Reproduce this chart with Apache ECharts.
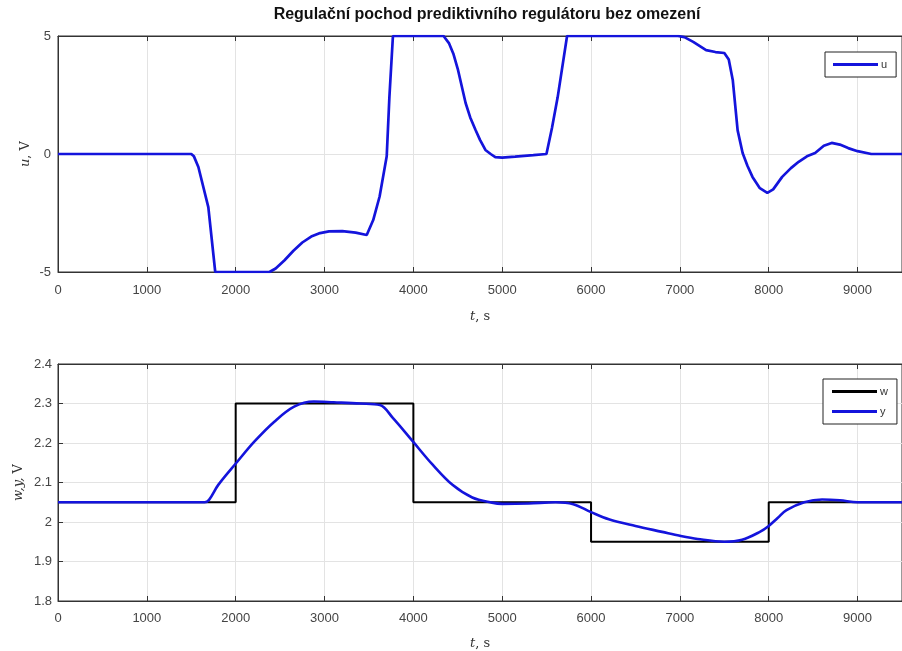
<!DOCTYPE html>
<html style="height: 100%">
<head>
    <meta charset="utf-8">
    <title>Regulační pochod</title>
    <script type="text/javascript" src="https://cdn.jsdelivr.net/npm/echarts@6/dist/echarts.min.js"></script>
</head>
<body style="height: 100%; margin: 0; background: #fff">
    <div id="container" style="width: 902px; height: 651px"></div>
    <script type="text/javascript">
        // akcni velicina u
        var uTime = [0, 1500, 1530, 1580, 1692, 1770, 2380, 2450, 2550, 2650, 2750, 2850, 2950, 3050, 3200, 3350, 3475, 3548, 3620, 3700, 3730, 3770,
            4340, 4400, 4450, 4500, 4588, 4640, 4700, 4750, 4811, 4870, 4922, 5000, 5145, 5350, 5498, 5560, 5624, 5730,
            6980, 7050, 7150, 7295, 7400, 7500, 7550, 7595, 7650, 7706, 7760, 7817, 7900, 7984, 8050, 8151, 8250, 8337, 8430, 8522, 8620, 8708, 8800, 8894, 9000, 9154, 9500];
        var uVal = [0, 0, -0.1, -0.55, -2.25, -5, -5, -4.85, -4.5, -4.1, -3.75, -3.5, -3.35, -3.28, -3.27, -3.33, -3.43, -2.8, -1.8, -0.1, 2.4, 5,
            5, 4.7, 4.25, 3.6, 2.16, 1.55, 1.02, 0.6, 0.17, 0.0, -0.13, -0.15, -0.11, -0.05, 0, 1.1, 2.4, 5,
            5, 4.95, 4.75, 4.4, 4.32, 4.28, 4.0, 3.14, 1.0, 0.04, -0.5, -0.97, -1.45, -1.65, -1.5, -0.97, -0.6, -0.33, -0.1, 0.04, 0.35, 0.47, 0.4, 0.25, 0.12, 0, 0];

        // zadana hodnota w (skoky)
        var wTime = [0, 2000, 2000, 4000, 4000, 6000, 6000, 8000, 8000, 9500];
        var wVal = [2.05, 2.05, 2.3, 2.3, 2.05, 2.05, 1.95, 1.95, 2.05, 2.05];

        // regulovana velicina y
        var yTime = [0, 1650, 1700, 1804, 2008, 2212, 2435, 2658, 2880, 3103, 3400, 3623, 3771, 3994, 4217, 4440, 4663, 4885,
            5000, 5300, 5600, 5800, 6000, 6200, 6500, 6800, 7000, 7200, 7500, 7700, 7900, 8000, 8100, 8200, 8400, 8600, 8800, 9000, 9500];
        var yVal = [2.05, 2.05, 2.056, 2.094, 2.15, 2.204, 2.254, 2.292, 2.305, 2.303, 2.300, 2.296, 2.263, 2.204, 2.145, 2.094, 2.062, 2.049,
            2.046, 2.047, 2.05, 2.045, 2.025, 2.007, 1.99, 1.975, 1.965, 1.957, 1.95, 1.955, 1.975, 1.99, 2.01, 2.03, 2.05, 2.057, 2.055, 2.05, 2.05];

        function pairs(t, v) {
            var out = [];
            for (var i = 0; i < t.length; i++) out.push([t[i], v[i]]);
            return out;
        }

        var font = 'Liberation Sans, Arial, sans-serif';
        var serif = 'DejaVu Serif, serif';
        var labelStyle = { color: '#444', fontSize: 13, fontFamily: font };
        var gridLine = { show: true, lineStyle: { color: '#e3e3e3', width: 1 } };
        var tickIn = { show: true, inside: true, length: 5, lineStyle: { color: '#333' } };
        var axLine = { show: true, onZero: false, lineStyle: { color: '#333', width: 1 } };
        var plain = function (v) { return String(Math.round(v * 100) / 100); };

        function nameStyle() {
            return {
                color: '#333', fontSize: 13, fontFamily: serif,
                rich: { i: { fontStyle: 'italic', fontSize: 13, fontFamily: serif, color: '#333' } }
            };
        }

        function xAxisFor(gi, margin, gap) {
            return [{
                type: 'value', gridIndex: gi, min: 0, max: 9500, interval: 1000,
                axisLine: axLine, axisTick: tickIn, splitLine: gridLine,
                axisLabel: Object.assign({ margin: margin, showMaxLabel: false, formatter: plain }, labelStyle),
                name: '{i|t}, s', nameLocation: 'middle', nameGap: gap,
                nameTextStyle: nameStyle()
            }, {
                type: 'value', gridIndex: gi, position: 'top', min: 0, max: 9500, interval: 1000,
                axisLine: axLine, axisTick: tickIn, splitLine: { show: false }, axisLabel: { show: false }
            }];
        }

        var legendBase = {
            orient: 'vertical', icon: 'rect', borderColor: '#222', borderWidth: 1, backgroundColor: '#fff', borderRadius: 0,
            itemWidth: 45, itemHeight: 3,
            textStyle: { fontSize: 11, color: '#333', fontFamily: font, padding: [0, 0, 0, -2] }
        };

        var myChart = echarts.init(document.getElementById('container'));
        var option = {
            animation: false,
            backgroundColor: '#fff',
            title: {
                text: 'Regulační pochod prediktivního regulátoru bez omezení',
                left: 482, top: 2, textAlign: 'center',
                textStyle: { fontSize: 16, fontWeight: 'bold', color: '#111', fontFamily: font }
            },
            grid: [
                { left: 58, top: 36, width: 853, height: 236, show: true, borderColor: '#333', borderWidth: 1 },
                { left: 58, top: 364, width: 853, height: 237, show: true, borderColor: '#333', borderWidth: 1 }
            ],
            legend: [Object.assign({}, legendBase, {
                data: ['u'], left: 825, top: 52, padding: [7, 9, 7, 8], itemGap: 2
            }), Object.assign({}, legendBase, {
                data: ['w', 'y'], left: 823, top: 379, padding: [7, 9, 7, 9], itemGap: 9
            })],
            xAxis: xAxisFor(0, 12, 38).concat(xAxisFor(1, 11, 36)),
            yAxis: [{
                type: 'value', gridIndex: 0, min: -5, max: 5, interval: 5,
                axisLine: axLine, axisTick: tickIn, splitLine: gridLine,
                axisLabel: Object.assign({ margin: 7, formatter: plain }, labelStyle),
                name: '{i|u}, V', nameLocation: 'middle', nameGap: 26, nameMoveOverlap: false,
                nameTextStyle: nameStyle()
            }, {
                type: 'value', gridIndex: 1, min: 1.8, max: 2.4, interval: 0.1,
                axisLine: axLine, axisTick: tickIn, splitLine: gridLine,
                axisLabel: Object.assign({ margin: 6, formatter: plain }, labelStyle),
                name: '{i|w,y,} V', nameLocation: 'middle', nameGap: 33, nameMoveOverlap: false,
                nameTextStyle: nameStyle()
            }],
            series: [{
                name: 'u', type: 'line', xAxisIndex: 0, yAxisIndex: 0,
                data: pairs(uTime, uVal), symbol: 'none',
                lineStyle: { color: '#1414dc', width: 2.7 }, itemStyle: { color: '#1414dc' }
            }, {
                name: 'w', type: 'line', xAxisIndex: 2, yAxisIndex: 1,
                data: pairs(wTime, wVal), symbol: 'none',
                lineStyle: { color: '#000', width: 2 }, itemStyle: { color: '#000' }
            }, {
                name: 'y', type: 'line', xAxisIndex: 2, yAxisIndex: 1,
                data: pairs(yTime, yVal), symbol: 'none', smooth: 0.35,
                lineStyle: { color: '#1414dc', width: 2.6 }, itemStyle: { color: '#1414dc' }
            }]
        };
        myChart.setOption(option);
    </script>
</body>
</html>
